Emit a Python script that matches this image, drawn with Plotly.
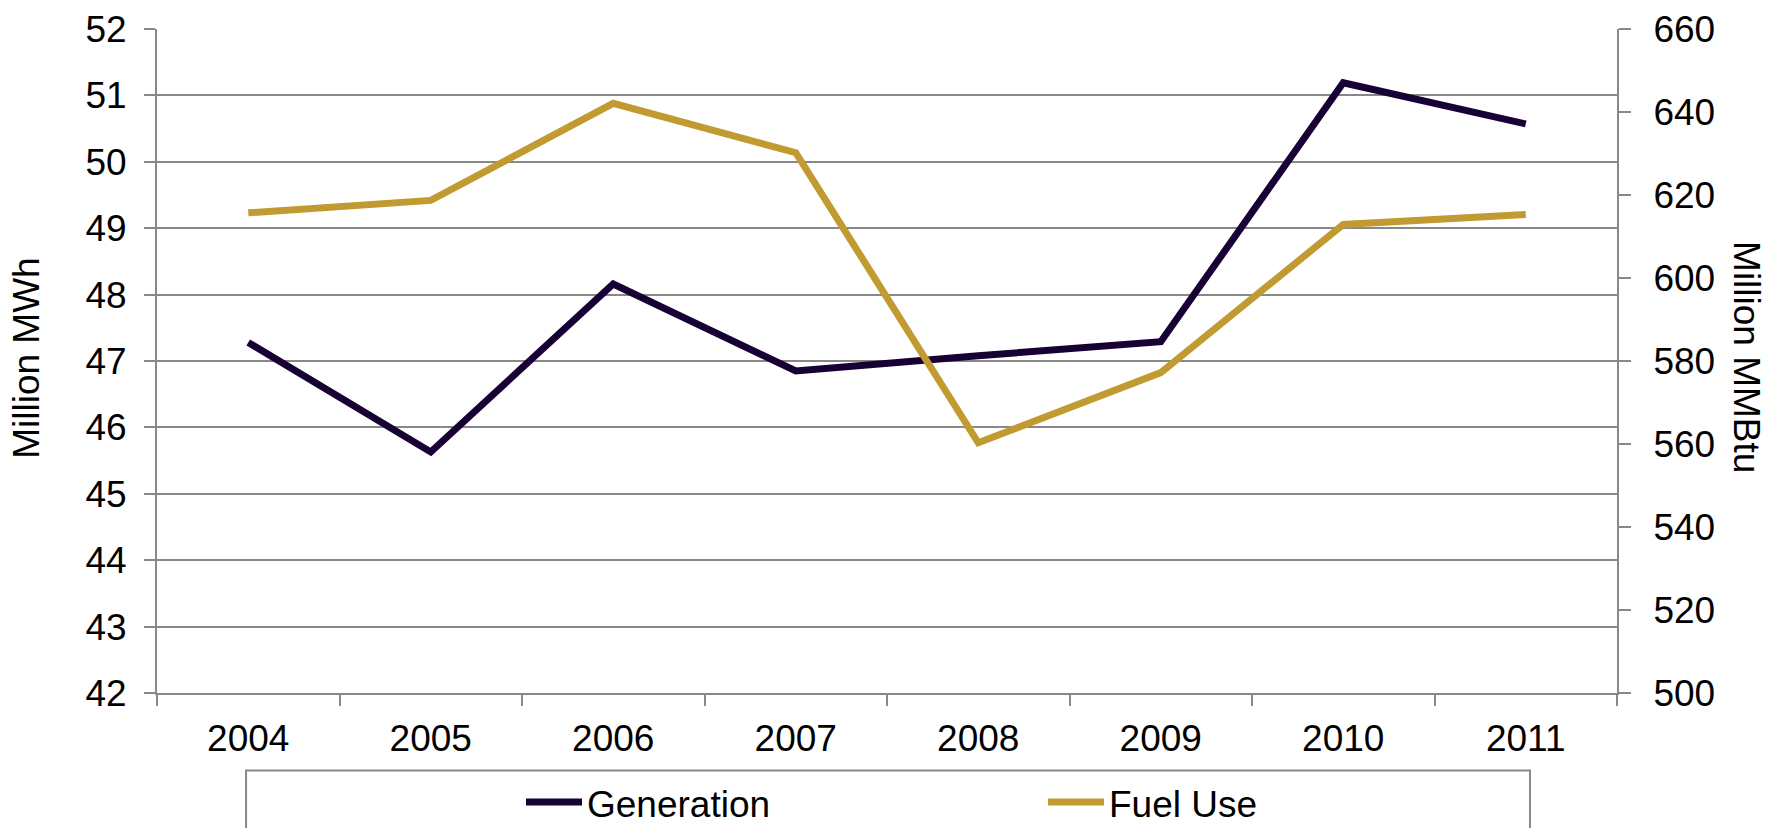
import plotly.graph_objects as go

years = ["2004", "2005", "2006", "2007", "2008", "2009", "2010", "2011"]
generation = [47.28, 45.63, 48.16, 46.85, 47.08, 47.29, 51.19, 50.57]
fuel_use = [615.7, 618.7, 642.1, 630.2, 560.3, 577.2, 612.9, 615.3]

left_ticks = list(range(42, 53))
right_ticks = list(range(500, 661, 20))

GEN_COLOR = "#170034"
FUEL_COLOR = "#C19B31"
GRID = "#888888"
FONT = "Liberation Sans, Arial, sans-serif"

fig = go.Figure()
fig.add_trace(go.Scatter(x=years, y=generation, name="Generation", mode="lines",
                         line=dict(color=GEN_COLOR, width=7), yaxis="y"))
fig.add_trace(go.Scatter(x=years, y=fuel_use, name="Fuel Use", mode="lines",
                         line=dict(color=FUEL_COLOR, width=7), yaxis="y2"))

fig.update_layout(
    width=1771, height=828,
    margin=dict(l=157, r=154, t=29, b=135, autoexpand=False),
    paper_bgcolor="white", plot_bgcolor="white",
    font=dict(family=FONT, size=37, color="black"),
    showlegend=True,
    legend=dict(orientation="h", x=0.2493, xanchor="left", y=-0.165, yanchor="middle",
                font=dict(size=37), itemwidth=56, entrywidth=451, entrywidthmode="pixels",
                bgcolor="rgba(0,0,0,0)", borderwidth=0),
    xaxis=dict(type="category", range=[-0.5, 7.5], tickson="boundaries",
               ticks="outside", ticklen=11, tickwidth=2, tickcolor=GRID,
               showline=True, linecolor=GRID, linewidth=2, showgrid=False,
               tickfont=dict(size=37), ticklabelstandoff=12, zeroline=False,
               automargin=False),
    yaxis=dict(range=[42, 52], tickvals=left_ticks, ticks="outside", ticklen=11,
               tickwidth=2, tickcolor=GRID, showline=True, linecolor=GRID, linewidth=2,
               showgrid=True, gridcolor=GRID, gridwidth=2, zeroline=False,
               tickfont=dict(size=37), ticklabelstandoff=10, automargin=False),
    yaxis2=dict(range=[500, 660], tickvals=right_ticks, overlaying="y", side="right",
                ticks="outside", ticklen=12, tickwidth=2, tickcolor=GRID,
                showline=True, linecolor=GRID, linewidth=2, showgrid=False,
                zeroline=False, tickfont=dict(size=37), ticklabelstandoff=15,
                automargin=False),
    annotations=[
        dict(text="Million MWh", xref="paper", yref="paper", x=-0.0894, y=0.504,
             textangle=-90, showarrow=False, font=dict(size=37),
             xanchor="center", yanchor="middle"),
        dict(text="Million MMBtu", xref="paper", yref="paper", x=1.089, y=0.506,
             textangle=90, showarrow=False, font=dict(size=37),
             xanchor="center", yanchor="middle"),
    ],
    shapes=[
        dict(type="rect", xref="paper", yref="paper", x0=0.061, x1=0.9404,
             y0=-0.40, y1=-0.1167, line=dict(color=GRID, width=2),
             fillcolor="rgba(0,0,0,0)", layer="below"),
    ],
)

fig.write_html("out.html", config={"displayModeBar": False},
               post_script="document.body.style.margin='0px';document.body.style.padding='0px';")
